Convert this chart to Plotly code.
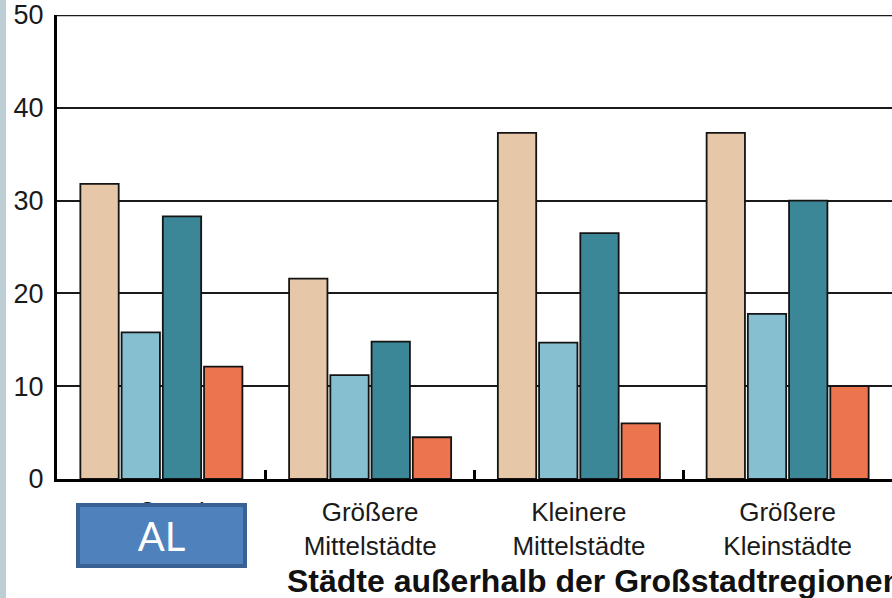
import plotly.graph_objects as go

categories = ["Großstädte", "Größere<br>Mittelstädte", "Kleinere<br>Mittelstädte", "Größere<br>Kleinstädte"]
series_names = ["Reihe 1", "Reihe 2", "Reihe 3", "Reihe 4"]
s1 = [31.8, 21.6, 37.3, 37.3]
s2 = [15.8, 11.2, 14.7, 17.8]
s3 = [28.3, 14.8, 26.5, 30.0]
s4 = [12.1, 4.5, 6.0, 10.0]
y_ticks = [0, 10, 20, 30, 40, 50]
axis_title = "Städte außerhalb der Großstadtregionen"
box_text = "AL"

colors = ["#E6C7A8", "#86BFD0", "#3B8797", "#EC7550"]

fig = go.Figure()
for name, vals, col in zip(series_names, [s1, s2, s3, s4], colors):
    fig.add_trace(go.Bar(
        x=categories, y=vals, name=name,
        marker=dict(color=col, line=dict(color="#141414", width=1.8)),
    ))

W, H = 892, 598
ml, mr, mt, mb = 57, 0, 15, 119
pw = W - ml - mr
ph = H - mt - mb

fig.update_layout(
    width=W, height=H,
    margin=dict(l=ml, r=mr, t=mt, b=mb),
    paper_bgcolor="white", plot_bgcolor="white",
    barmode="group", bargap=0.21, bargroupgap=0.07,
    showlegend=False,
    font=dict(family="Liberation Sans, Arial, sans-serif", color="#1a1a1a"),
)
fig.update_yaxes(
    range=[0, 50], tickvals=y_ticks, showgrid=True, gridcolor="#1a1a1a", gridwidth=2,
    zeroline=False, showline=True, linecolor="#000", linewidth=3,
    ticks="", tickfont=dict(size=27, color="#1a1a1a"), ticklabelstandoff=5,
)
fig.update_xaxes(
    range=[-0.5, 3.5], showgrid=False, zeroline=False,
    showline=True, linecolor="#000", linewidth=3,
    ticks="inside", tickson="boundaries", ticklen=9, tickwidth=3, tickcolor="#000",
    tickfont=dict(size=26, color="#1a1a1a"), ticklabelstandoff=8,
)

# top line at 50
fig.add_shape(type="line", xref="paper", yref="y", x0=0, x1=1, y0=50, y1=50,
              line=dict(color="#1a1a1a", width=2.5), layer="above")

# left grey-blue strip
fig.add_shape(type="rect", xref="paper", yref="paper",
              x0=-ml / pw, x1=(6 - ml) / pw, y0=-mb / ph, y1=1 + mt / ph,
              fillcolor="#BDCFD5", line=dict(width=0), layer="above")

# axis group title
fig.add_annotation(text="<b>" + axis_title + "</b>", xref="paper", yref="paper",
                   x=(285 - ml) / pw, y=(H - mb - 581) / ph, xanchor="left", yanchor="middle",
                   showarrow=False, font=dict(size=32, color="#111"))

# AL box
fig.add_annotation(text=box_text, xref="paper", yref="paper",
                   x=(161.5 - ml) / pw, y=(H - mb - 535.5) / ph,
                   xanchor="center", yanchor="middle", showarrow=False,
                   width=163, height=57, borderpad=0, borderwidth=4,
                   bgcolor="#4F81BD", bordercolor="#3A6194",
                   font=dict(size=40, color="white", family="Lato, Noto Sans, sans-serif"))

fig.write_html("out.html")
